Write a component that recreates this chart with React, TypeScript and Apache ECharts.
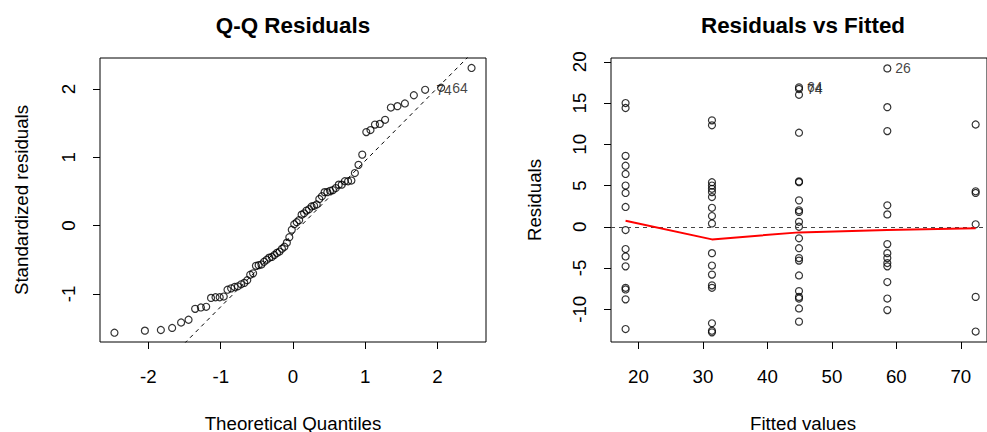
import React, { useEffect, useRef } from 'react';
import * as echarts from 'echarts';

// ---------- Q-Q panel data ----------
const qqTheoretical = [
  -2.470, -2.049, -1.828, -1.672, -1.548, -1.445, -1.354, -1.274, -1.201, -1.134,
  -1.072, -1.014, -0.958, -0.906, -0.856, -0.808, -0.762, -0.717, -0.674, -0.633,
  -0.592, -0.552, -0.513, -0.475, -0.437, -0.400, -0.364, -0.328, -0.292, -0.257,
  -0.222, -0.187, -0.153, -0.119, -0.085, -0.051, -0.017,
  0.017, 0.051, 0.085, 0.119, 0.153, 0.187, 0.222, 0.257, 0.292, 0.328,
  0.364, 0.400, 0.437, 0.475, 0.513, 0.552, 0.592, 0.633, 0.674, 0.717,
  0.762, 0.808, 0.856, 0.906, 0.958, 1.014, 1.072, 1.134, 1.201, 1.274,
  1.354, 1.445, 1.548, 1.672, 1.828, 2.049, 2.470,
];
const qqStdResiduals = [
  -1.57, -1.54, -1.53, -1.50, -1.42, -1.38, -1.22, -1.20, -1.19, -1.06,
  -1.05, -1.05, -1.04, -0.94, -0.92, -0.90, -0.89, -0.86, -0.84, -0.80,
  -0.72, -0.70, -0.59, -0.58, -0.57, -0.53, -0.50, -0.47, -0.46, -0.43,
  -0.40, -0.38, -0.34, -0.31, -0.25, -0.17, -0.06,
  0.02, 0.05, 0.08, 0.16, 0.18, 0.22, 0.24, 0.28, 0.29, 0.31,
  0.39, 0.43, 0.49, 0.49, 0.51, 0.52, 0.55, 0.60, 0.60, 0.65,
  0.65, 0.66, 0.77, 0.89, 1.04, 1.37, 1.40, 1.48, 1.49, 1.55,
  1.73, 1.75, 1.79, 1.91, 1.99, 2.02, 2.31,
];
// point 26 (index 73) is labelled in R, but its label falls outside the plot box and is clipped
const qqIdIndex = [72, 71];
const qqIdLabel = ['64', '74'];
const qqLineIntercept = -0.12;
const qqLineSlope = 1.07;
const qqXRange = [-2.67, 2.67];
const qqYRange = [-1.706, 2.456];
const qqXTicks = [-2, -1, 0, 1, 2];
const qqYTicks = [-1, 0, 1, 2];

// ---------- Residuals vs Fitted data ----------
const fittedLevels = [18.0, 31.4, 44.9, 58.6, 72.3];
const residGroup1 = [15.0, 14.4, 8.6, 7.4, 6.4, 5.0, 4.1, 2.4, -0.4, -2.7, -3.6, -4.8, -7.4, -7.6, -8.8, -12.4];
const residGroup2 = [12.9, 12.3, 5.4, 5.0, 4.6, 4.2, 3.6, 2.3, 1.3, 0.4, -3.2, -4.7, -5.8, -7.1, -7.4, -11.7, -12.6, -12.8];
const residGroup3 = [16.9, 16.7, 16.0, 11.4, 5.5, 5.4, 3.2, 2.0, 1.8, 0.6, 0.0, -1.4, -2.6, -3.8, -4.1, -5.9, -7.8, -8.5, -8.7, -9.9, -11.5];
const residGroup4 = [19.2, 14.5, 11.6, 2.6, 1.5, -2.1, -3.2, -3.8, -4.4, -4.8, -6.7, -8.7, -10.1];
const residGroup5 = [12.4, 4.3, 4.1, 0.3, -8.5, -12.7];
const lowessValues = [0.74, -1.53, -0.68, -0.40, -0.19];
const rvfIdGroup = [3, 2, 2];
const rvfIdResid = [19.2, 16.9, 16.7];
const rvfIdLabel = ['26', '64', '74'];
const rvfXRange = [15.74, 74.06];
const rvfYRange = [-13.97, 20.46];
const rvfXTicks = [20, 30, 40, 50, 60, 70];
const rvfYTicks = [-10, -5, 0, 5, 10, 15, 20];

const FONT = '"Liberation Sans", Arial, Helvetica, sans-serif';
const TICK_FS = 18.7;

function makeAxis(gridIndex: number, range: number[], ticks: number[], isY: boolean) {
  return {
    type: 'value',
    gridIndex,
    min: range[0],
    max: range[1],
    axisLine: { show: false, onZero: false },
    axisTick: {
      show: true,
      inside: false,
      length: 7,
      lineStyle: { color: '#000', width: 1 },
      customValues: ticks,
    },
    axisLabel: {
      show: true,
      customValues: ticks,
      color: '#000',
      fontSize: TICK_FS,
      fontFamily: FONT,
      margin: isY ? 22 : 25,
      rotate: isY ? 90 : 0,
    },
    splitLine: { show: false },
  };
}

const labelStyle = (text: string) => ({
  show: true,
  formatter: text,
  position: 'right',
  distance: 7,
  color: '#111',
  fontSize: 14,
  fontFamily: FONT,
});

export default function App() {
  const ref = useRef<HTMLDivElement>(null);
  useEffect(() => {
    if (!ref.current) return;
    const chart = echarts.init(ref.current, null, { renderer: 'svg' });

    const qqData = qqTheoretical.map((q, i) => {
      const k = qqIdIndex.indexOf(i);
      if (k >= 0) {
        return { value: [q, qqStdResiduals[i]], label: labelStyle(qqIdLabel[k]) };
      }
      return [q, qqStdResiduals[i]];
    });
    const qqLine = [
      [qqXRange[0], qqLineIntercept + qqLineSlope * qqXRange[0]],
      [qqXRange[1], qqLineIntercept + qqLineSlope * qqXRange[1]],
    ];

    const groups = [residGroup1, residGroup2, residGroup3, residGroup4, residGroup5];
    const rvfData: any[] = [];
    groups.forEach((g, gi) => {
      g.forEach((r) => {
        rvfData.push([fittedLevels[gi], r]);
      });
    });
    const rvfIdData = rvfIdGroup.map((gi, k) => ({
      value: [fittedLevels[gi], rvfIdResid[k]],
      label: { ...labelStyle(rvfIdLabel[k]), distance: 8 },
    }));
    const lowessData = fittedLevels.map((f, i) => [f, lowessValues[i]]);

    const symbolStyle = {
      color: 'rgba(0,0,0,0)',
      borderColor: '#000',
      borderWidth: 1.2,
    };

    const textStyle = (text: string, size: number, weight: string) => ({
      text,
      fill: '#000',
      fontSize: size,
      fontWeight: weight,
      fontFamily: FONT,
      align: 'center',
      verticalAlign: 'middle',
      textAlign: 'center',
      textVerticalAlign: 'middle',
    });

    const option: any = {
      animation: false,
      backgroundColor: '#fff',
      grid: [
        { left: 100, right: 501, top: 58, bottom: 90, show: true, borderColor: '#000', borderWidth: 1, backgroundColor: 'transparent' },
        { left: 611, right: -8, top: 58, bottom: 90, show: true, borderColor: '#000', borderWidth: 1, backgroundColor: 'transparent' },
      ],
      xAxis: [makeAxis(0, qqXRange, qqXTicks, false), makeAxis(1, rvfXRange, rvfXTicks, false)],
      yAxis: [makeAxis(0, qqYRange, qqYTicks, true), makeAxis(1, rvfYRange, rvfYTicks, true)],
      series: [
        {
          type: 'line',
          xAxisIndex: 0,
          yAxisIndex: 0,
          data: qqLine,
          symbol: 'none',
          clip: true,
          lineStyle: { color: '#000', width: 1, type: [4, 4] },
          z: 1,
        },
        {
          type: 'scatter',
          xAxisIndex: 0,
          yAxisIndex: 0,
          data: qqData,
          symbol: 'circle',
          symbolSize: 7,
          itemStyle: symbolStyle,
          z: 3,
        },
        {
          type: 'scatter',
          xAxisIndex: 1,
          yAxisIndex: 1,
          data: rvfData,
          symbol: 'circle',
          symbolSize: 7,
          itemStyle: symbolStyle,
          z: 3,
          markLine: {
            silent: true,
            symbol: 'none',
            label: { show: false },
            lineStyle: { color: '#444', width: 1, type: [4, 4] },
            data: [{ yAxis: 0 }],
          },
        },
        {
          type: 'scatter',
          xAxisIndex: 1,
          yAxisIndex: 1,
          data: rvfIdData,
          symbol: 'circle',
          symbolSize: 0,
          itemStyle: symbolStyle,
          z: 4,
        },
        {
          type: 'line',
          xAxisIndex: 1,
          yAxisIndex: 1,
          data: lowessData,
          symbol: 'none',
          lineStyle: { color: '#ff0000', width: 2 },
          z: 5,
        },
      ],
      graphic: [
        { type: 'text', x: 293, y: 25, z: 100, style: textStyle('Q-Q Residuals', 22.4, 'bold') },
        { type: 'text', x: 803, y: 25, z: 100, style: textStyle('Residuals vs Fitted', 22.4, 'bold') },
        { type: 'text', x: 293, y: 423, z: 100, style: textStyle('Theoretical Quantiles', TICK_FS, 'normal') },
        { type: 'text', x: 803, y: 423, z: 100, style: textStyle('Fitted values', TICK_FS, 'normal') },
        { type: 'text', x: 21, y: 200, z: 100, rotation: Math.PI / 2, style: textStyle('Standardized residuals', TICK_FS, 'normal') },
        { type: 'text', x: 534, y: 200, z: 100, rotation: Math.PI / 2, style: textStyle('Residuals', TICK_FS, 'normal') },
      ],
    };
    chart.setOption(option);
    return () => chart.dispose();
  }, []);
  return (
    <div
      ref={ref}
      style={{ position: 'fixed', left: 0, top: 0, width: 987, height: 432, background: '#fff' }}
    />
  );
}
